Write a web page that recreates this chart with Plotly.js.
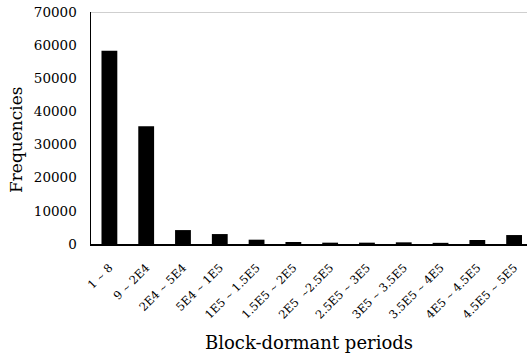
<!DOCTYPE html>
<html><head><meta charset="utf-8">
<script src="https://cdn.plot.ly/plotly-3.0.1.min.js"></script>
<style>body{margin:0;background:#fff}#c{width:527px;height:354px}</style>
</head><body><div id="c"></div>
<script>
const categories = ["1 ~ 8","9 ~ 2E4","2E4 ~ 5E4","5E4 ~ 1E5","1E5 ~ 1.5E5","1.5E5 ~ 2E5","2E5  ~2.5E5","2.5E5 ~ 3E5","3E5 ~ 3.5E5","3.5E5 ~ 4E5","4E5 ~ 4.5E5","4.5E5 ~ 5E5"];
const frequencies = [58300, 35500, 4200, 3000, 1300, 600, 400, 400, 500, 350, 1200, 2700];
const yTicks = [0,10000,20000,30000,40000,50000,60000,70000];

const font = "DejaVu Serif";
const tickText = categories.map(c => c.replace('~', '<span style="font-size:9px">~</span>'));
Plotly.newPlot('c', [{
  type: 'bar', x: categories, y: frequencies,
  marker: {color: '#000'}, hoverinfo: 'none'
}], {
  width: 527, height: 354,
  margin: {l: 91, r: 0, t: 12, b: 110},
  paper_bgcolor: '#fff', plot_bgcolor: '#fff',
  bargap: 0.57,
  showlegend: false,
  font: {family: font, color: '#000'},
  xaxis: {
    range: [-0.5, 11.35], tickangle: -45, tickfont: {size: 11.5, family: font},
    tickvals: categories, ticktext: tickText, ticklabelstandoff: 11,
    showline: true, linecolor: '#000', linewidth: 1.5, ticks: '', showgrid: false,
    title: {text: 'Block-dormant periods', font: {size: 18, family: font}, standoff: 16}
  },
  yaxis: {
    range: [0, 70000], tickvals: yTicks, ticktext: yTicks.map(String),
    tickfont: {size: 13.5, family: font}, ticklabelstandoff: 10,
    showline: true, linecolor: '#000', linewidth: 1.5, ticks: '', showgrid: false, zeroline: false
  },
  annotations: [{text: 'Frequencies', textangle: -90, xref: 'paper', yref: 'paper',
                 x: -0.172, y: 0.448, xanchor: 'center', yanchor: 'middle', showarrow: false,
                 font: {size: 17, family: font, color: '#000'}}],
  shapes: [{type: 'line', xref: 'paper', yref: 'y', x0: 0, x1: 1, y0: 70000, y1: 70000,
            line: {color: '#a0a0a0', width: 1}}]
}, {staticPlot: true});
</script></body></html>
